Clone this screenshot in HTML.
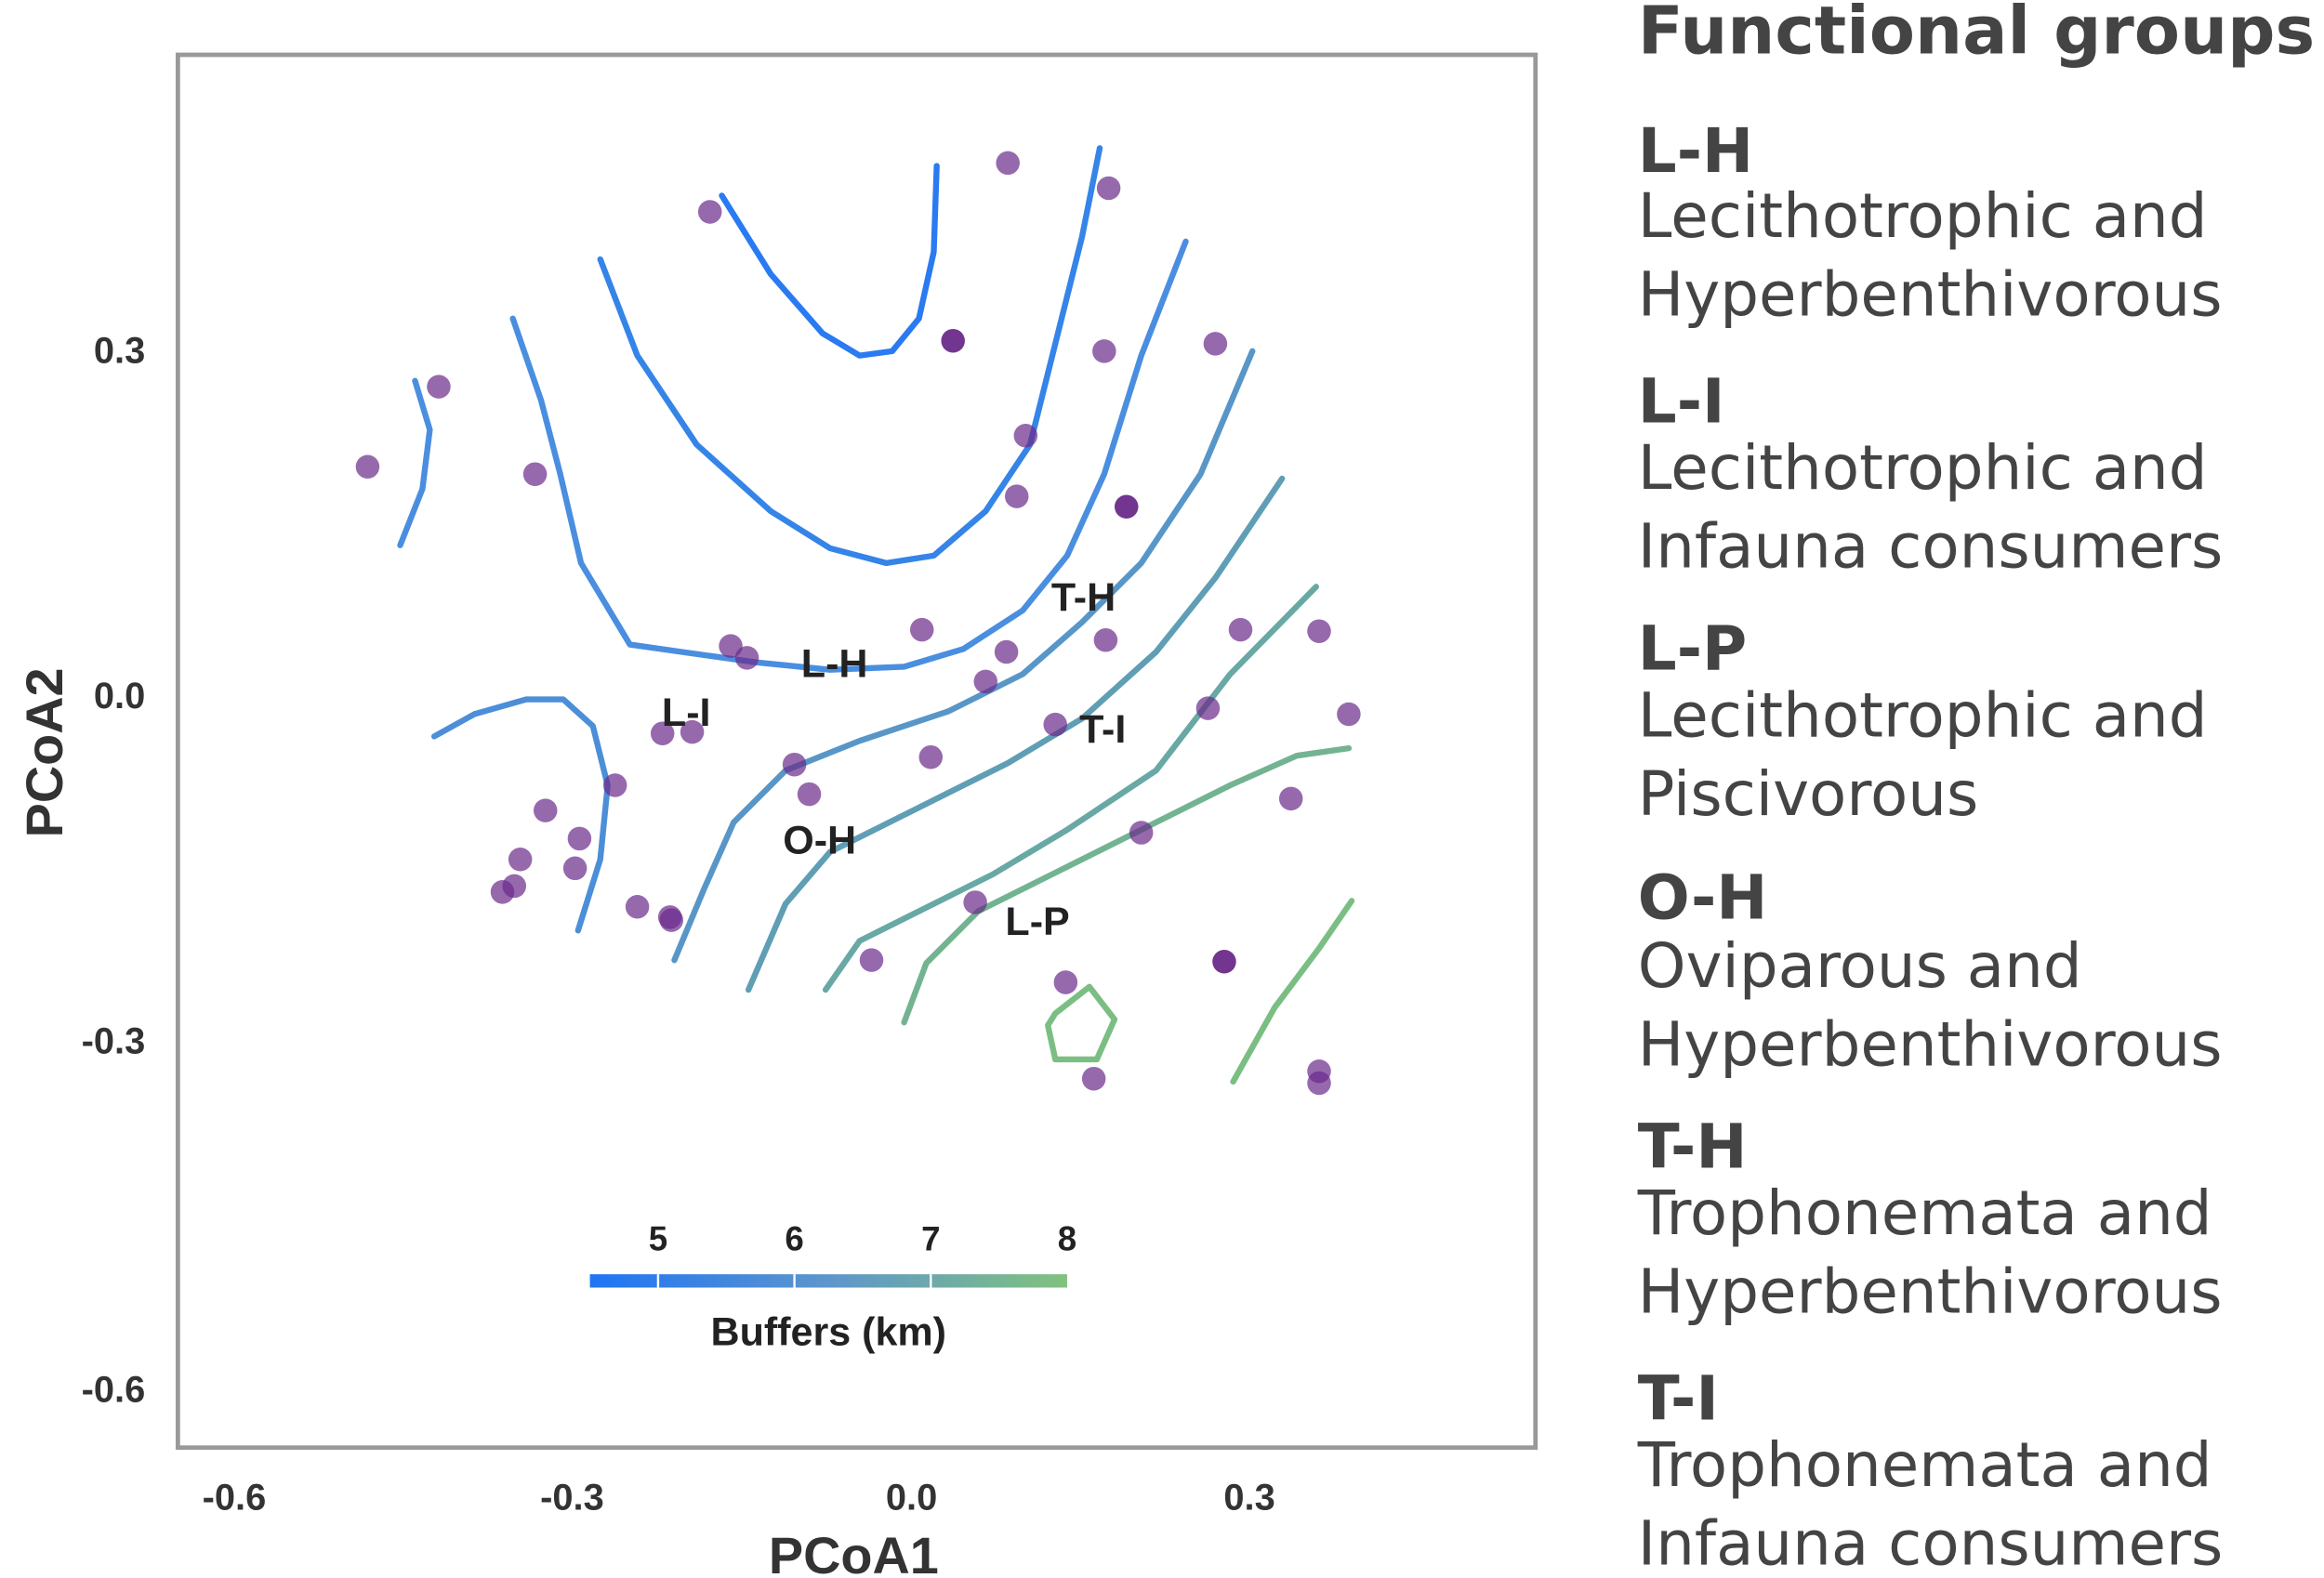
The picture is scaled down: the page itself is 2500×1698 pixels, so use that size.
<!DOCTYPE html>
<html><head><meta charset="utf-8"><style>html,body{margin:0;padding:0;background:#fff}svg{display:block}</style></head>
<body>
<svg width="2500" height="1698" viewBox="0 0 1568 1065" xmlns="http://www.w3.org/2000/svg">
<defs><linearGradient id="cb" x1="0" x2="1"><stop offset="0" stop-color="#1f74f5"/><stop offset="0.5" stop-color="#5e96cc"/><stop offset="1" stop-color="#80c27e"/></linearGradient></defs>
<rect x="0" y="0" width="1568" height="1065" fill="#fff"/>
<rect x="120" y="37" width="916" height="940" fill="none" stroke="#999" stroke-width="3"/>
<g fill="none" stroke-width="4" stroke-linecap="round" stroke-linejoin="round">
<polyline stroke="#2a7af2" points="487,132 520,185 555,225 580,240 602,237 620,215 630,170 632,112"/>
<polyline stroke="#3584e8" points="405,175 430,240 470,300 520,345 560,370 598,380 630,375 665,345 695,300 715,220 730,160 742,100"/>
<polyline stroke="#4a8ee0" points="346,215 365,270 378,320 392,380 425,435 460,440 510,447 560,452 610,450 650,438 690,412 720,375 745,320 770,240 800,163"/>
<polyline stroke="#4a8ee0" points="280,257 290,290 285,330 270,368"/>
<polyline stroke="#4c8ed8" points="293,497 320,482 355,472 380,472 400,490 410,530 405,580 390,628"/>
<polyline stroke="#5896c8" points="455,648 475,600 495,555 530,520 580,500 640,480 690,455 730,420 770,380 810,320 845,237"/>
<polyline stroke="#5f9eb5" points="505,668 530,610 560,575 620,545 680,515 730,485 780,440 820,390 865,323"/>
<polyline stroke="#68a8a5" points="557,668 580,635 610,620 670,590 720,560 780,520 830,455 888,396"/>
<polyline stroke="#73b392" points="610,690 625,650 660,615 710,590 770,560 830,530 875,510 910,505"/>
<polygon stroke="#7bbe84" points="712,684 735,666 752,688 740,715 712,715 707,692"/>
<polyline stroke="#7bbe84" points="832,730 860,680 890,640 912,608"/>
</g>
<g fill="#6a2a8a" fill-opacity="0.7">
<circle cx="680" cy="110" r="8"/><circle cx="748" cy="127" r="8"/><circle cx="479" cy="143" r="8"/><circle cx="643" cy="230" r="8" fill-opacity="0.95"/><circle cx="745" cy="237" r="8"/><circle cx="820" cy="232" r="8"/><circle cx="296" cy="261" r="8"/><circle cx="248" cy="315" r="8"/><circle cx="361" cy="320" r="8"/><circle cx="692" cy="294" r="8"/><circle cx="686" cy="335" r="8"/><circle cx="760" cy="342" r="8" fill-opacity="0.95"/><circle cx="622" cy="425" r="8"/><circle cx="493" cy="436" r="8"/><circle cx="504" cy="444" r="8"/><circle cx="679" cy="440" r="8"/><circle cx="746" cy="432" r="8"/><circle cx="837" cy="425" r="8"/><circle cx="890" cy="426" r="8"/><circle cx="665" cy="460" r="8"/><circle cx="910" cy="482" r="8"/><circle cx="815" cy="478" r="8"/><circle cx="712" cy="489" r="8"/><circle cx="447" cy="495" r="8"/><circle cx="467" cy="494" r="8"/><circle cx="628" cy="511" r="8"/><circle cx="536" cy="516" r="8"/><circle cx="546" cy="536" r="8"/><circle cx="415" cy="530" r="8"/><circle cx="368" cy="547" r="8"/><circle cx="391" cy="566" r="8"/><circle cx="871" cy="539" r="8"/><circle cx="770" cy="562" r="8"/><circle cx="351" cy="580" r="8"/><circle cx="388" cy="586" r="8"/><circle cx="339" cy="602" r="8"/><circle cx="347" cy="598" r="8"/><circle cx="430" cy="612" r="8"/><circle cx="452" cy="619" r="8"/><circle cx="453" cy="621" r="8"/><circle cx="658" cy="609" r="8"/><circle cx="588" cy="648" r="8"/><circle cx="826" cy="649" r="8" fill-opacity="0.95"/><circle cx="719" cy="663" r="8"/><circle cx="738" cy="728" r="8"/><circle cx="890" cy="723" r="8"/><circle cx="890" cy="731" r="8"/>
</g>
<g font-family="Liberation Sans, sans-serif" font-weight="bold" font-size="27" fill="#222" text-anchor="middle">
<text x="563" y="457">L-H</text><text x="463" y="490">L-I</text><text x="731" y="412">T-H</text><text x="744" y="501">T-I</text><text x="553" y="576">O-H</text><text x="700" y="631">L-P</text>
</g>
<rect x="398" y="860" width="322" height="9" fill="url(#cb)"/>
<g stroke="#fff" stroke-width="1.5"><line x1="444" y1="860" x2="444" y2="869"/><line x1="536" y1="860" x2="536" y2="869"/><line x1="628" y1="860" x2="628" y2="869"/></g>
<g font-family="Liberation Sans, sans-serif" font-weight="bold" font-size="23" fill="#222" text-anchor="middle">
<text x="444" y="844">5</text><text x="536" y="844">6</text><text x="628" y="844">7</text><text x="720" y="844">8</text>
<text x="559" y="908" font-size="27">Buffers (km)</text>
</g>
<g font-family="Liberation Sans, sans-serif" font-weight="bold" font-size="25" fill="#333">
<text x="158" y="1019" text-anchor="middle">-0.6</text><text x="386" y="1019" text-anchor="middle">-0.3</text><text x="615" y="1019" text-anchor="middle">0.0</text><text x="843" y="1019" text-anchor="middle">0.3</text>
<text x="98" y="245" text-anchor="end">0.3</text><text x="98" y="478" text-anchor="end">0.0</text><text x="98" y="711" text-anchor="end">-0.3</text><text x="98" y="946" text-anchor="end">-0.6</text>
<text x="576" y="1062" text-anchor="middle" font-size="35">PCoA1</text>
<text transform="translate(42,508) rotate(-90)" text-anchor="middle" font-size="35">PCoA2</text>
</g>
<g font-family="DejaVu Sans, sans-serif" fill="#444" font-size="41.3">
<text x="1105" y="36" font-weight="bold" font-size="45">Functional groups</text>
<text x="1105" y="116" font-weight="bold">L-H</text><text x="1105" y="160">Lecithotrophic and</text><text x="1105" y="213">Hyperbenthivorous</text>
<text x="1105" y="285" font-weight="bold">L-I</text><text x="1105" y="330">Lecithotrophic and</text><text x="1105" y="383">Infauna consumers</text>
<text x="1105" y="452" font-weight="bold">L-P</text><text x="1105" y="497">Lecithotrophic and</text><text x="1105" y="550">Piscivorous</text>
<text x="1105" y="620" font-weight="bold">O-H</text><text x="1105" y="666">Oviparous and</text><text x="1105" y="719">Hyperbenthivorous</text>
<text x="1105" y="788" font-weight="bold">T-H</text><text x="1105" y="833">Trophonemata and</text><text x="1105" y="886">Hyperbenthivorous</text>
<text x="1105" y="958" font-weight="bold">T-I</text><text x="1105" y="1003">Trophonemata and</text><text x="1105" y="1056">Infauna consumers</text>
</g>
</svg>
</body></html>
